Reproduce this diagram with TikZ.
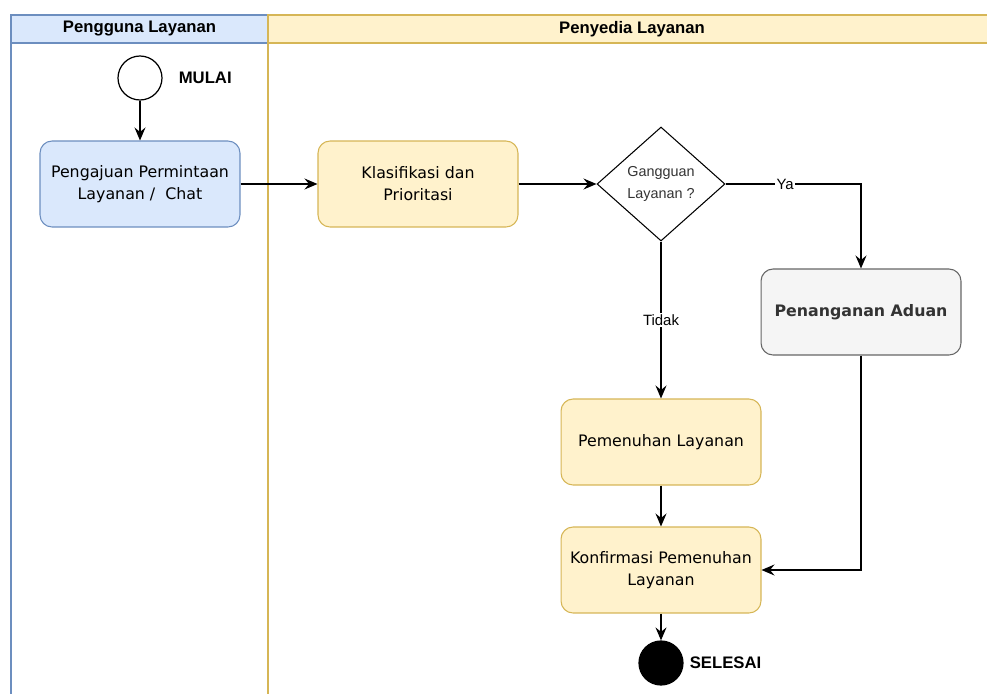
\documentclass[tikz,border=0pt]{standalone}
\usepackage{fontspec}
\setmainfont{DejaVu Sans}
\newfontfamily\helv{Liberation Sans}
\usetikzlibrary{shapes.geometric,arrows.meta,positioning,calc}
\usepackage{xcolor}
\definecolor{userFill}{HTML}{DAE8FC}
\definecolor{userLine}{HTML}{6C8EBF}
\definecolor{provFill}{HTML}{FFF2CC}
\definecolor{provLine}{HTML}{D6B656}
\definecolor{aduanFill}{HTML}{F5F5F5}
\definecolor{aduanLine}{HTML}{666666}
\definecolor{aduanText}{HTML}{333333}

\begin{document}
\begin{tikzpicture}[
    x=0.02cm, y=-0.02cm,
    lanehead/.style={rectangle, draw, line width=1pt, minimum height=0.56cm, inner sep=0pt, font=\helv\bfseries\fontsize{9.5}{11}\selectfont},
    box/.style={rectangle, rounded corners=0.24cm, draw, line width=0.6pt, minimum width=4cm, minimum height=1.72cm, align=center, font=\fontsize{9}{12.5}\selectfont},
    state/.style={circle, draw, line width=0.7pt, minimum size=0.88cm, inner sep=0pt},
    label/.style={font=\helv\bfseries\fontsize{9.5}{11}\selectfont},
    tag/.style={fill=white, inner sep=1pt, font=\helv\fontsize{8.5}{10}\selectfont},
    flow/.style={-{Stealth[length=2.6mm, width=2.2mm, inset=0.9mm]}, line width=0.7pt}
]
\clip (0,0) rectangle (987,693);

% Lanes
\draw[userLine, line width=1pt] (11,43) rectangle (268,720);
\draw[provLine, line width=1pt] (268,43) rectangle (996,720);
\node[lanehead, fill=userFill, draw=userLine, minimum width=5.14cm] (userhead) at (139.5,29) {Pengguna Layanan};
\node[lanehead, fill=provFill, draw=provLine, minimum width=14.56cm] (provhead) at (632,29) {Penyedia Layanan};

% Start
\node[state] (start) at (140,78) {};
\node[label, right=0.2cm of start] (startlabel) {MULAI};

% Steps
\node[box, fill=userFill, draw=userLine] (submit) at (140,184) {Pengajuan Permintaan\\Layanan /\ \ Chat};
\node[box, fill=provFill, draw=provLine] (classify) at (418,184) {Klasifikasi dan\\Prioritasi};
\node[diamond, draw, line width=0.6pt, minimum width=2.56cm, minimum height=2.28cm, inner sep=0pt, align=center, text=aduanText, font=\helv\fontsize{8.2}{12.5}\selectfont] (check) at (661,184) {Gangguan\\Layanan ?};
\node[box, fill=aduanFill, draw=aduanLine, text=aduanText, font=\bfseries\fontsize{9}{12.5}\selectfont] (complaint) at (861,312) {Penanganan Aduan};
\node[box, fill=provFill, draw=provLine] (fulfil) at (661,442) {Pemenuhan Layanan};
\node[box, fill=provFill, draw=provLine] (confirm) at (661,570) {Konfirmasi Pemenuhan\\Layanan};

% End
\node[state, fill=black] (finish) at (661,663) {};
\node[label, right=0pt of finish] (finishlabel) {SELESAI};

% Arrows
\draw[flow] (start) -- (submit);
\draw[flow] (submit) -- (classify);
\draw[flow] (classify) -- (check);
\draw[flow] (check.east) -| node[tag, pos=0.22] {Ya} (complaint.north);
\draw[flow] (check.south) -- node[tag] {Tidak} (fulfil.north);
\draw[flow] (fulfil) -- (confirm);
\draw[flow] (complaint.south) |- (confirm.east);
\draw[flow] (confirm) -- (finish);
\end{tikzpicture}
\end{document}
